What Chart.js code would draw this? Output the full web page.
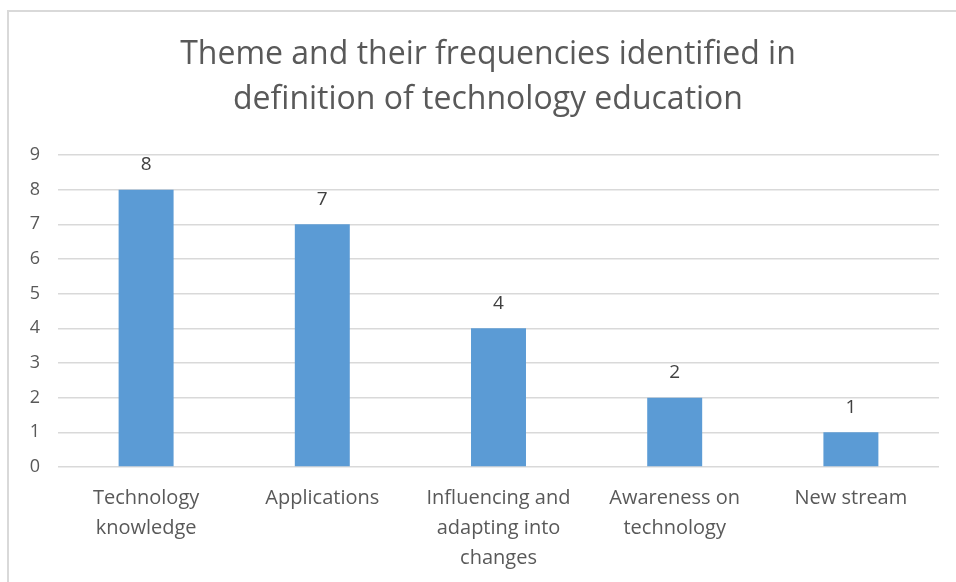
<!DOCTYPE html>
<html>
<head>
<meta charset="utf-8">
<script src="https://cdn.jsdelivr.net/npm/chart.js@4"></script>
<style>
  body { margin: 0; background: white; }
  #frame { position: absolute; left: 7px; top: 10px; width: 960px; height: 600px;
           border-left: 2px solid #d9d9d9; border-top: 2px solid #d9d9d9; }
  canvas { position: absolute; left: 0; top: 0; }
</style>
</head>
<body>
<div id="frame"></div>
<canvas id="grafico" width="956" height="582"></canvas>
<script>
let ctx = document.getElementById('grafico')

// dados
const categorias = [
  ['Technology', 'knowledge'],
  ['Applications'],
  ['Influencing and', 'adapting into', 'changes'],
  ['Awareness on', 'technology'],
  ['New stream']
]
const frequencias = [8, 7, 4, 2, 1]
const titulo = ['Theme and their frequencies identified in', 'definition of technology education']

Chart.defaults.font.family = 'Open Sans'
Chart.defaults.color = '#595959'

// titulo centrado no quadro (nao so na area do grafico)
const tituloPlugin = {
  id: 'tituloPlugin',
  afterDraw(chart) {
    const c = chart.ctx
    c.save()
    c.font = '32px "Open Sans"'
    c.fillStyle = '#595959'
    c.textAlign = 'center'
    c.textBaseline = 'middle'
    titulo.forEach((linha, i) => c.fillText(linha, 488, 55 + i * 45))
    c.restore()
  }
}

// rotulos em cima das barras
const rotulos = {
  id: 'rotulos',
  afterDatasetsDraw(chart) {
    const c = chart.ctx
    c.save()
    c.font = '19px "Open Sans"'
    c.fillStyle = '#404040'
    c.textAlign = 'center'
    c.textBaseline = 'middle'
    chart.getDatasetMeta(0).data.forEach((bar, i) => {
      c.fillText(frequencias[i], bar.x, bar.y - 25)
    })
    c.restore()
  }
}

const chart = new Chart(ctx, {
  type: 'bar',
  data: {
    labels: categorias,
    datasets: [{
      data: frequencias,
      backgroundColor: '#5B9BD5',
      barPercentage: 1,
      categoryPercentage: 0.312
    }]
  },
  options: {
    responsive: false,
    animation: false,
    layout: { padding: { left: 0, right: 17, top: 155, bottom: 0 } },
    plugins: {
      legend: { display: false },
      tooltip: { enabled: false },
      title: { display: false }
    },
    scales: {
      x: {
        grid: { display: false },
        border: { display: false },
        ticks: { color: '#595959', font: { size: 20, lineHeight: 1.5 }, padding: 8, maxRotation: 0 },
        afterFit(scale) { scale.height = 115 }
      },
      y: {
        min: 0,
        max: 9,
        grid: { color: '#d9d9d9', lineWidth: 1.5, drawTicks: false },
        border: { display: false },
        ticks: { stepSize: 1, color: '#595959', font: { size: 18 }, padding: 18 },
        afterFit(scale) { scale.width = 58 }
      }
    }
  },
  plugins: [rotulos, tituloPlugin]
})
</script>
</body>
</html>
